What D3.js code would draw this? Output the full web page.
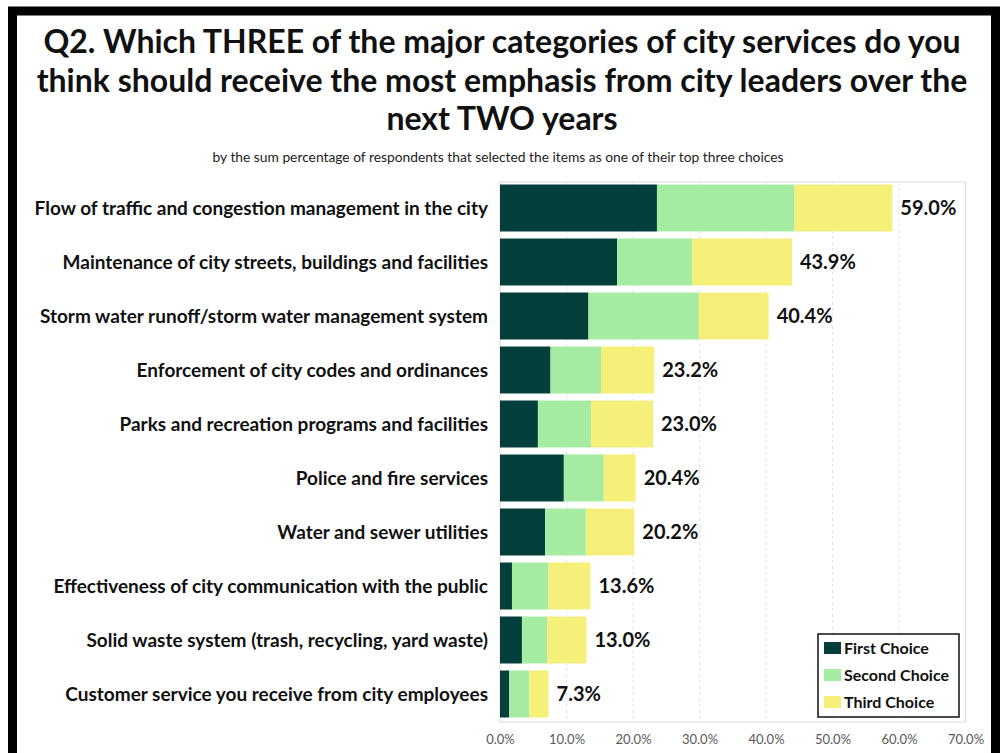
<!DOCTYPE html>
<html>
<head>
<meta charset="utf-8">
<script src="https://cdn.jsdelivr.net/npm/d3@7/dist/d3.min.js"></script>
<style>
  html, body { margin: 0; padding: 0; background: #fff; }
  svg { display: block; }
  text { font-family: Lato, "Open Sans", sans-serif; }
</style>
</head>
<body>
<svg id="chart" width="1005" height="753"></svg>
<script>
// Survey items (top to bottom)
const categories = [
  "Flow of traffic and congestion management in the city",
  "Maintenance of city streets, buildings and facilities",
  "Storm water runoff/storm water management system",
  "Enforcement of city codes and ordinances",
  "Parks and recreation programs and facilities",
  "Police and fire services",
  "Water and sewer utilities",
  "Effectiveness of city communication with the public",
  "Solid waste system (trash, recycling, yard waste)",
  "Customer service you receive from city employees"
];
// Percent of respondents per choice rank
const firstChoice  = [23.6, 17.6, 13.3, 7.6, 5.7, 9.6, 6.8, 1.8, 3.3, 1.4];
const secondChoice = [20.7, 11.3, 16.6, 7.6, 8.0, 6.0, 6.1, 5.5, 3.8, 3.0];
const thirdChoice  = [14.7, 15.0, 10.5, 8.0, 9.3, 4.8, 7.3, 6.3, 5.9, 2.9];
// Sum of the three choices, as printed
const totals = [59.0, 43.9, 40.4, 23.2, 23.0, 20.4, 20.2, 13.6, 13.0, 7.3];
const seriesNames = ["First Choice", "Second Choice", "Third Choice"];
const seriesColors = ["#053f3c", "#a5eba2", "#f4f07a"];
const xTicks = [0, 10, 20, 30, 40, 50, 60, 70];

const titleLines = [
  "Q2. Which THREE of the major categories of city services do you",
  "think should receive the most emphasis from city leaders over the",
  "next TWO years"
];
const subtitle = "by the sum percentage of respondents that selected the items as one of their top three choices";

const svg = d3.select("#chart");

// outer black frame
svg.append("rect")
  .attr("x", 12.5).attr("y", 11).attr("width", 983).attr("height", 760)
  .attr("fill", "none").attr("stroke", "#000").attr("stroke-width", 9);

// title
svg.append("g").selectAll("text").data(titleLines).join("text")
  .attr("x", 502).attr("y", (d, i) => 53 + i * 38.5)
  .attr("text-anchor", "middle")
  .attr("font-size", 32).attr("font-weight", 700).attr("fill", "#111")
  .text(d => d);

svg.append("text")
  .attr("x", 498).attr("y", 162)
  .attr("text-anchor", "middle")
  .attr("font-size", 13.8).attr("fill", "#222")
  .text(subtitle);

const x0 = 500, x1 = 965.5, yTop = 181, yBot = 721;

const x = d3.scaleLinear().domain([0, 70]).range([x0, x1]);
const y = d3.scaleBand().domain(categories).range([yTop, yBot])
  .paddingInner(0.13).paddingOuter(0.065);

// plot area border
svg.append("rect")
  .attr("x", x0).attr("y", 182).attr("width", x1 - x0).attr("height", 540)
  .attr("fill", "none").attr("stroke", "#d9d9d9").attr("stroke-width", 1);

// gridlines
svg.append("g").selectAll("line").data(xTicks.filter(t => t > 0 && t < 70)).join("line")
  .attr("x1", d => x(d)).attr("x2", d => x(d))
  .attr("y1", 182).attr("y2", 722)
  .attr("stroke", "#e4e4e4").attr("stroke-width", 1).attr("stroke-dasharray", "3,3");

// stacked bars
const rows = categories.map((c, i) => ({
  cat: c, First: firstChoice[i], Second: secondChoice[i], Third: thirdChoice[i]
}));
const stack = d3.stack().keys(["First", "Second", "Third"])(rows);

svg.append("g").selectAll("g").data(stack).join("g")
  .attr("fill", (d, i) => seriesColors[i])
  .selectAll("rect").data(d => d).join("rect")
  .attr("x", d => x(d[0]))
  .attr("width", d => x(d[1]) - x(d[0]))
  .attr("y", d => y(d.data.cat))
  .attr("height", y.bandwidth());

// category labels
svg.append("g").selectAll("text").data(categories).join("text")
  .attr("x", 488).attr("y", d => y(d) + y.bandwidth() / 2)
  .attr("dy", "0.35em").attr("text-anchor", "end")
  .attr("font-size", 19).attr("font-weight", 700).attr("fill", "#111")
  .text(d => d);

// total labels
svg.append("g").selectAll("text").data(categories).join("text")
  .attr("x", (d, i) => x(totals[i]) + 8)
  .attr("y", d => y(d) + y.bandwidth() / 2)
  .attr("dy", "0.35em")
  .attr("font-size", 20).attr("font-weight", 700).attr("fill", "#111")
  .text((d, i) => totals[i].toFixed(1) + "%");

// x axis tick labels
const axis = svg.append("g").attr("transform", `translate(0,${722})`)
  .call(d3.axisBottom(x).tickValues(xTicks).tickFormat(d => d.toFixed(1) + "%").tickSize(0).tickPadding(13));
axis.select(".domain").remove();
axis.selectAll("text").attr("font-size", 13).attr("fill", "#595959")
  .attr("font-family", "Lato, 'Open Sans', sans-serif");

// legend
const lg = svg.append("g").attr("transform", "translate(818,634)");
lg.append("rect").attr("width", 141).attr("height", 83)
  .attr("fill", "#fff").attr("stroke", "#111").attr("stroke-width", 1.5);
const li = lg.selectAll("g").data(seriesNames).join("g")
  .attr("transform", (d, i) => `translate(6,${14 + i * 27})`);
li.append("rect").attr("x", 0).attr("y", -6).attr("width", 17).attr("height", 12)
  .attr("fill", (d, i) => seriesColors[i]);
li.append("text").attr("x", 20).attr("dy", "0.35em")
  .attr("font-size", 16).attr("font-weight", 700).attr("fill", "#111")
  .text(d => d);
</script>
</body>
</html>
